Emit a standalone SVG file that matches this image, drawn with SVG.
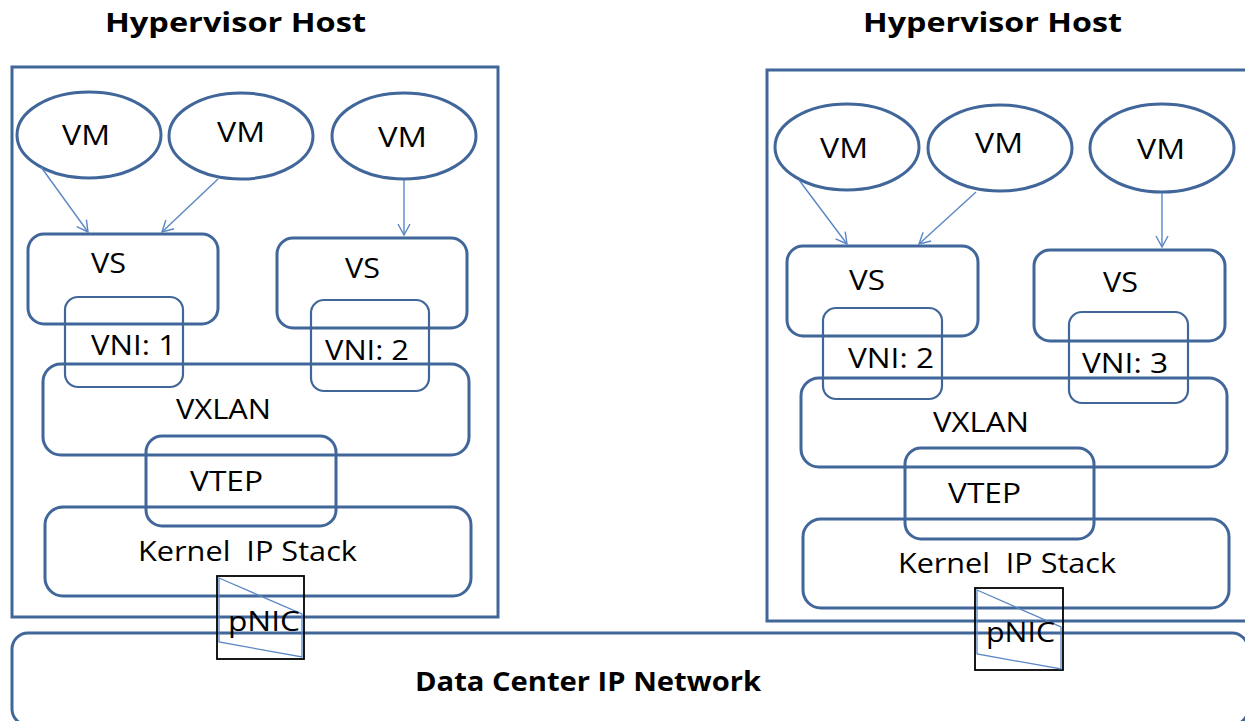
<svg xmlns="http://www.w3.org/2000/svg" width="1245" height="721" viewBox="0 0 1245 721">
<style>
.box{fill:none;stroke:#41669a;stroke-width:3}
.vni{fill:none;stroke:#41669a;stroke-width:2.2}
.t{font-family:"Open Sans","DejaVu Sans",sans-serif;font-size:27px;fill:#000;white-space:pre}
.tb{font-family:"Open Sans","DejaVu Sans",sans-serif;font-size:26px;font-weight:bold;fill:#000}
.nic{fill:none;stroke:#000;stroke-width:1.8}
.trap{fill:none;stroke:#5b87c5;stroke-width:1.3}
.arr{fill:none;stroke:#5b87c5;stroke-width:1.4;marker-end:url(#ah)}
</style>
<defs>
<marker id="ah" markerUnits="userSpaceOnUse" markerWidth="14" markerHeight="14" refX="12" refY="7" orient="auto">
<path d="M1,1 L12,7 L1,13" fill="none" stroke="#5b87c5" stroke-width="1.4"/>
</marker>
</defs>
<rect width="1245" height="721" fill="#fff"/>

<g id="titles">
<text class="tb" x="105" y="32" textLength="261" lengthAdjust="spacingAndGlyphs">Hypervisor Host</text>
<text class="tb" x="863" y="32" textLength="259" lengthAdjust="spacingAndGlyphs">Hypervisor Host</text>
</g>

<g id="dc-network">
<rect class="box" x="12" y="633" width="1236" height="92" rx="16"/>
<text class="tb" x="415" y="691" font-size="23" textLength="346" lengthAdjust="spacingAndGlyphs">Data Center IP Network</text>
</g>

<g id="host-left">
<rect class="box" x="12" y="67" width="486" height="550"/>
</g>
<g id="host-right">
<rect class="box" x="767" y="70" width="500" height="551"/>
</g>

<!-- Left host nodes -->
<g id="vm-l1"><ellipse class="box" cx="89" cy="135" rx="72" ry="43"/><text class="t" x="62" y="145" textLength="48" lengthAdjust="spacingAndGlyphs">VM</text></g>
<g id="vm-l2"><ellipse class="box" cx="241" cy="136" rx="72" ry="43"/><text class="t" x="217" y="142" textLength="48" lengthAdjust="spacingAndGlyphs">VM</text></g>
<g id="vm-l3"><ellipse class="box" cx="404" cy="136" rx="72" ry="43"/><text class="t" x="378" y="147" textLength="49" lengthAdjust="spacingAndGlyphs">VM</text></g>
<g id="vs-l1"><rect class="box" x="28" y="234" width="190" height="90" rx="16"/><text class="t" x="91" y="273" textLength="35" lengthAdjust="spacingAndGlyphs">VS</text></g>
<g id="vs-l2"><rect class="box" x="277" y="238" width="190" height="90" rx="16"/><text class="t" x="345" y="278" textLength="35" lengthAdjust="spacingAndGlyphs">VS</text></g>
<g id="vxlan-l"><rect class="box" x="43" y="364" width="426" height="91" rx="18"/><text class="t" x="176" y="419" textLength="95" lengthAdjust="spacingAndGlyphs">VXLAN</text></g>
<g id="kernel-l"><rect class="box" x="45" y="507" width="426" height="89" rx="18"/><text class="t" x="138" y="561" textLength="219" lengthAdjust="spacingAndGlyphs" xml:space="preserve">Kernel  IP Stack</text></g>
<g id="vni-l1"><rect class="vni" x="65" y="297" width="118" height="90" rx="13"/><text class="t" x="91" y="355" textLength="85" lengthAdjust="spacingAndGlyphs">VNI: 1</text></g>
<g id="vni-l2"><rect class="vni" x="311" y="300" width="118" height="91" rx="13"/><text class="t" x="325" y="360" textLength="84" lengthAdjust="spacingAndGlyphs">VNI: 2</text></g>
<g id="vtep-l"><rect class="box" x="146" y="436" width="190" height="90" rx="16"/><text class="t" x="190" y="491" textLength="73" lengthAdjust="spacingAndGlyphs">VTEP</text></g>
<g id="pnic-l">
<rect class="nic" x="217" y="576" width="87" height="83"/>
<polygon class="trap" points="219,578 302,614 302,657 219,642"/>
<text class="t" x="228" y="631" font-size="22" textLength="72" lengthAdjust="spacingAndGlyphs">pNIC</text>
</g>

<!-- Right host nodes -->
<g id="vm-r1"><ellipse class="box" cx="847" cy="147" rx="72" ry="43"/><text class="t" x="820" y="158" textLength="48" lengthAdjust="spacingAndGlyphs">VM</text></g>
<g id="vm-r2"><ellipse class="box" cx="1000" cy="148" rx="72" ry="43"/><text class="t" x="975" y="153" textLength="48" lengthAdjust="spacingAndGlyphs">VM</text></g>
<g id="vm-r3"><ellipse class="box" cx="1162" cy="148" rx="72" ry="44"/><text class="t" x="1137" y="159" textLength="48" lengthAdjust="spacingAndGlyphs">VM</text></g>
<g id="vs-r1"><rect class="box" x="787" y="246" width="191" height="90" rx="16"/><text class="t" x="849" y="290" textLength="36" lengthAdjust="spacingAndGlyphs">VS</text></g>
<g id="vs-r2"><rect class="box" x="1034" y="250" width="191" height="91" rx="16"/><text class="t" x="1103" y="292" textLength="35" lengthAdjust="spacingAndGlyphs">VS</text></g>
<g id="vxlan-r"><rect class="box" x="801" y="378" width="426" height="89" rx="18"/><text class="t" x="933" y="432" textLength="96" lengthAdjust="spacingAndGlyphs">VXLAN</text></g>
<g id="kernel-r"><rect class="box" x="803" y="519" width="426" height="89" rx="18"/><text class="t" x="898" y="573" textLength="218" lengthAdjust="spacingAndGlyphs" xml:space="preserve">Kernel  IP Stack</text></g>
<g id="vni-r2"><rect class="vni" x="823" y="308" width="119" height="91" rx="13"/><text class="t" x="848" y="368" textLength="86" lengthAdjust="spacingAndGlyphs">VNI: 2</text></g>
<g id="vni-r3"><rect class="vni" x="1069" y="312" width="119" height="91" rx="13"/><text class="t" x="1082" y="373" textLength="86" lengthAdjust="spacingAndGlyphs">VNI: 3</text></g>
<g id="vtep-r"><rect class="box" x="905" y="448" width="189" height="91" rx="16"/><text class="t" x="948" y="503" textLength="73" lengthAdjust="spacingAndGlyphs">VTEP</text></g>
<g id="pnic-r">
<rect class="nic" x="975" y="588" width="88" height="82"/>
<polygon class="trap" points="977,590 1061,627 1061,669 977,654"/>
<text class="t" x="986" y="642" font-size="22" textLength="69" lengthAdjust="spacingAndGlyphs">pNIC</text>
</g>

<g id="connectors">
<line class="arr" x1="41" y1="167" x2="88" y2="232"/>
<line class="arr" x1="218" y1="179" x2="162" y2="232"/>
<line class="arr" x1="404" y1="180" x2="404" y2="235"/>
<line class="arr" x1="799" y1="180" x2="847" y2="244"/>
<line class="arr" x1="976" y1="192" x2="919" y2="244"/>
<line class="arr" x1="1162" y1="193" x2="1162" y2="247"/>
</g>
</svg>
